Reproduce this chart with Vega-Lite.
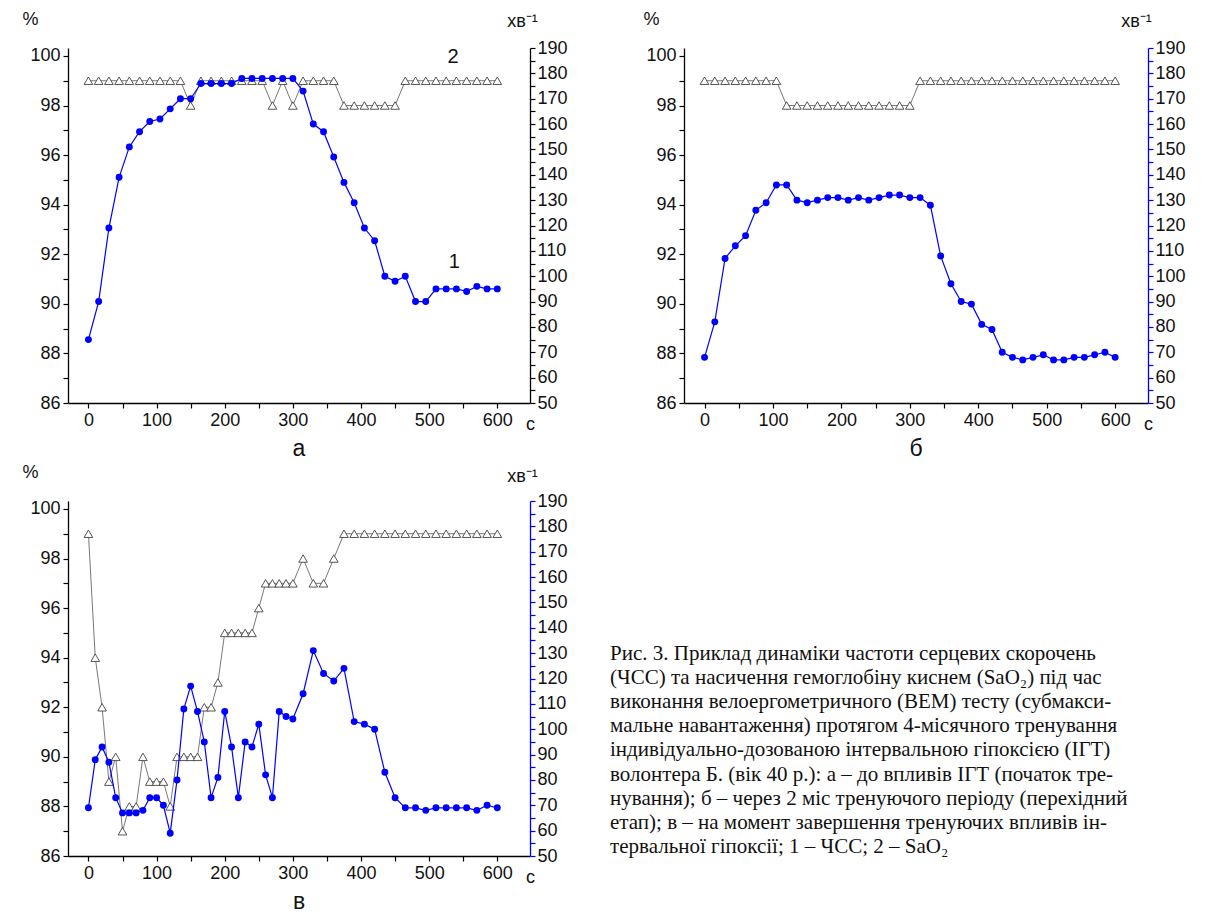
{
  "$schema": "https://vega.github.io/schema/vega-lite/v6.json",
  "autosize": {"type": "pad"},
  "padding": {"left": 21, "top": 10, "right": 0, "bottom": 0},
  "background": "white",
  "config": {
    "font": "Liberation Sans",
    "view": {"stroke": null},
    "axis": {
      "labelFont": "Liberation Sans", "labelFontSize": 18, "labelColor": "#111",
      "domainColor": "#000", "tickColor": "#000", "domainWidth": 1.3, "tickWidth": 1.2,
      "tickSize": 5, "grid": false, "labelFlush": false, "labelOverlap": false, "labelBound": false,
      "titleFont": "Liberation Sans", "titleFontWeight": "normal", "titleFontSize": 18, "titleColor": "#111"
    },
    "title": {"font": "Liberation Sans", "fontWeight": "normal", "fontSize": 23, "color": "#111"}
  },
  "datasets": {
    "a": [
      {"t": 0, "spo2": 99, "hr": 75}, {"t": 15, "spo2": 99, "hr": 90}, {"t": 30, "spo2": 99, "hr": 119},
      {"t": 45, "spo2": 99, "hr": 139}, {"t": 60, "spo2": 99, "hr": 151}, {"t": 75, "spo2": 99, "hr": 157},
      {"t": 90, "spo2": 99, "hr": 161}, {"t": 105, "spo2": 99, "hr": 162}, {"t": 120, "spo2": 99, "hr": 166},
      {"t": 135, "spo2": 99, "hr": 170}, {"t": 150, "spo2": 98, "hr": 170}, {"t": 165, "spo2": 99, "hr": 176},
      {"t": 180, "spo2": 99, "hr": 176}, {"t": 195, "spo2": 99, "hr": 176}, {"t": 210, "spo2": 99, "hr": 176},
      {"t": 225, "spo2": 99, "hr": 178}, {"t": 240, "spo2": 99, "hr": 178}, {"t": 255, "spo2": 99, "hr": 178},
      {"t": 270, "spo2": 98, "hr": 178}, {"t": 285, "spo2": 99, "hr": 178}, {"t": 300, "spo2": 98, "hr": 178},
      {"t": 315, "spo2": 99, "hr": 173}, {"t": 330, "spo2": 99, "hr": 160}, {"t": 345, "spo2": 99, "hr": 157},
      {"t": 360, "spo2": 99, "hr": 147}, {"t": 375, "spo2": 98, "hr": 137}, {"t": 390, "spo2": 98, "hr": 129},
      {"t": 405, "spo2": 98, "hr": 119}, {"t": 420, "spo2": 98, "hr": 114}, {"t": 435, "spo2": 98, "hr": 100},
      {"t": 450, "spo2": 98, "hr": 98}, {"t": 465, "spo2": 99, "hr": 100}, {"t": 480, "spo2": 99, "hr": 90},
      {"t": 495, "spo2": 99, "hr": 90}, {"t": 510, "spo2": 99, "hr": 95}, {"t": 525, "spo2": 99, "hr": 95},
      {"t": 540, "spo2": 99, "hr": 95}, {"t": 555, "spo2": 99, "hr": 94}, {"t": 570, "spo2": 99, "hr": 96},
      {"t": 585, "spo2": 99, "hr": 95}, {"t": 600, "spo2": 99, "hr": 95}
    ],
    "a_lbl": [
      {"t": 535, "spo2": 99.95, "lbl": "2"},
      {"t": 537, "spo2": 91.7, "lbl": "1"}
    ],
    "b": [
      {"t": 0, "spo2": 99, "hr": 68}, {"t": 15, "spo2": 99, "hr": 82}, {"t": 30, "spo2": 99, "hr": 107},
      {"t": 45, "spo2": 99, "hr": 112}, {"t": 60, "spo2": 99, "hr": 116}, {"t": 75, "spo2": 99, "hr": 126},
      {"t": 90, "spo2": 99, "hr": 129}, {"t": 105, "spo2": 99, "hr": 136}, {"t": 120, "spo2": 98, "hr": 136},
      {"t": 135, "spo2": 98, "hr": 130}, {"t": 150, "spo2": 98, "hr": 129}, {"t": 165, "spo2": 98, "hr": 130},
      {"t": 180, "spo2": 98, "hr": 131}, {"t": 195, "spo2": 98, "hr": 131}, {"t": 210, "spo2": 98, "hr": 130},
      {"t": 225, "spo2": 98, "hr": 131}, {"t": 240, "spo2": 98, "hr": 130}, {"t": 255, "spo2": 98, "hr": 131},
      {"t": 270, "spo2": 98, "hr": 132}, {"t": 285, "spo2": 98, "hr": 132}, {"t": 300, "spo2": 98, "hr": 131},
      {"t": 315, "spo2": 99, "hr": 131}, {"t": 330, "spo2": 99, "hr": 128}, {"t": 345, "spo2": 99, "hr": 108},
      {"t": 360, "spo2": 99, "hr": 97}, {"t": 375, "spo2": 99, "hr": 90}, {"t": 390, "spo2": 99, "hr": 89},
      {"t": 405, "spo2": 99, "hr": 81}, {"t": 420, "spo2": 99, "hr": 79}, {"t": 435, "spo2": 99, "hr": 70},
      {"t": 450, "spo2": 99, "hr": 68}, {"t": 465, "spo2": 99, "hr": 67}, {"t": 480, "spo2": 99, "hr": 68},
      {"t": 495, "spo2": 99, "hr": 69}, {"t": 510, "spo2": 99, "hr": 67}, {"t": 525, "spo2": 99, "hr": 67},
      {"t": 540, "spo2": 99, "hr": 68}, {"t": 555, "spo2": 99, "hr": 68}, {"t": 570, "spo2": 99, "hr": 69},
      {"t": 585, "spo2": 99, "hr": 70}, {"t": 600, "spo2": 99, "hr": 68}
    ],
    "c": [
      {"t": 0, "spo2": 99, "hr": 69}, {"t": 10, "spo2": 94, "hr": 88}, {"t": 20, "spo2": 92, "hr": 93},
      {"t": 30, "spo2": 89, "hr": 87}, {"t": 40, "spo2": 90, "hr": 73}, {"t": 50, "spo2": 87, "hr": 67},
      {"t": 60, "spo2": 88, "hr": 67}, {"t": 70, "spo2": 88, "hr": 67}, {"t": 80, "spo2": 90, "hr": 68},
      {"t": 90, "spo2": 89, "hr": 73}, {"t": 100, "spo2": 89, "hr": 73}, {"t": 110, "spo2": 89, "hr": 70},
      {"t": 120, "spo2": 88, "hr": 59}, {"t": 130, "spo2": 90, "hr": 80}, {"t": 140, "spo2": 90, "hr": 108},
      {"t": 150, "spo2": 90, "hr": 117}, {"t": 160, "spo2": 90, "hr": 107}, {"t": 170, "spo2": 92, "hr": 95},
      {"t": 180, "spo2": 92, "hr": 73}, {"t": 190, "spo2": 93, "hr": 81}, {"t": 200, "spo2": 95, "hr": 107},
      {"t": 210, "spo2": 95, "hr": 93}, {"t": 220, "spo2": 95, "hr": 73}, {"t": 230, "spo2": 95, "hr": 95},
      {"t": 240, "spo2": 95, "hr": 93}, {"t": 250, "spo2": 96, "hr": 102}, {"t": 260, "spo2": 97, "hr": 82},
      {"t": 270, "spo2": 97, "hr": 73}, {"t": 280, "spo2": 97, "hr": 107}, {"t": 290, "spo2": 97, "hr": 105},
      {"t": 300, "spo2": 97, "hr": 104}, {"t": 315, "spo2": 98, "hr": 114}, {"t": 330, "spo2": 97, "hr": 131},
      {"t": 345, "spo2": 97, "hr": 122}, {"t": 360, "spo2": 98, "hr": 119}, {"t": 375, "spo2": 99, "hr": 124},
      {"t": 390, "spo2": 99, "hr": 103}, {"t": 405, "spo2": 99, "hr": 102}, {"t": 420, "spo2": 99, "hr": 100},
      {"t": 435, "spo2": 99, "hr": 83}, {"t": 450, "spo2": 99, "hr": 73}, {"t": 465, "spo2": 99, "hr": 69},
      {"t": 480, "spo2": 99, "hr": 69}, {"t": 495, "spo2": 99, "hr": 68}, {"t": 510, "spo2": 99, "hr": 69},
      {"t": 525, "spo2": 99, "hr": 69}, {"t": 540, "spo2": 99, "hr": 69}, {"t": 555, "spo2": 99, "hr": 69},
      {"t": 570, "spo2": 99, "hr": 68}, {"t": 585, "spo2": 99, "hr": 70}, {"t": 600, "spo2": 99, "hr": 69}
    ],
    "caption": [
      {"line": 0, "text": "Рис. 3. Приклад динаміки частоти серцевих скорочень"},
      {"line": 1, "text": "(ЧСС) та насичення гемоглобіну киснем (SaO₂) під час"},
      {"line": 2, "text": "виконання велоергометричного (ВЕМ) тесту (субмакси-"},
      {"line": 3, "text": "мальне навантаження) протягом 4-місячного тренування"},
      {"line": 4, "text": "індивідуально-дозованою інтервальною гіпоксією (ІГТ)"},
      {"line": 5, "text": "волонтера Б. (вік 40 р.): а – до впливів ІГТ (початок тре-"},
      {"line": 6, "text": "нування); б – через 2 міс тренуючого періоду (перехідний"},
      {"line": 7, "text": "етап); в – на момент завершення тренуючих впливів ін-"},
      {"line": 8, "text": "тервальної гіпоксії; 1 – ЧСС; 2 – SaO₂"}
    ]
  },
  "columns": 2,
  "spacing": {"row": 98, "column": 154},
  "bounds": "flush",
  "concat": [
    {
      "width": 462, "height": 355,
      "title": {"text": "а", "orient": "bottom", "offset": 5},
      "layer": [
        {
          "encoding": {
            "x": {"field": "t", "type": "quantitative", "scale": {"domain": [-30, 648], "nice": false, "zero": false},
              "axis": {"values": [0, 50, 100, 150, 200, 250, 300, 350, 400, 450, 500, 550, 600], "labelExpr": "datum.value % 100 === 0 ? datum.label : ''", "labelPadding": 3, "title": "с", "titleX": 462, "titleY": 21, "titleAlign": "center", "titleBaseline": "middle"}},
            "y": {"field": "spo2", "type": "quantitative", "scale": {"domain": [86, 100.32], "nice": false, "zero": false},
              "axis": {"orient": "left", "values": [86, 87, 88, 89, 90, 91, 92, 93, 94, 95, 96, 97, 98, 99, 100], "labelExpr": "datum.value % 2 === 0 ? datum.label : ''", "labelPadding": 3, "title": "%", "titleAngle": 0, "titleX": -38, "titleY": -29, "titleAlign": "center", "titleBaseline": "middle"}}
          },
          "layer": [
            {"data": {"name": "a"}, "mark": {"type": "line", "color": "#555", "strokeWidth": 0.8}},
            {"data": {"name": "a"}, "mark": {"type": "point", "shape": "triangle-up", "size": 75, "filled": true, "fill": "#ffffff", "stroke": "#444", "strokeWidth": 0.9, "opacity": 1}},
            {"data": {"name": "a_lbl"}, "mark": {"type": "text", "fontSize": 20, "color": "#111"}, "encoding": {"text": {"field": "lbl"}}}
          ]
        },
        {
          "encoding": {
            "x": {"field": "t", "type": "quantitative", "scale": {"domain": [-30, 648], "nice": false, "zero": false},
              "axis": {"values": [0, 50, 100, 150, 200, 250, 300, 350, 400, 450, 500, 550, 600], "labelExpr": "datum.value % 100 === 0 ? datum.label : ''", "labelPadding": 3, "title": "с", "titleX": 462, "titleY": 21, "titleAlign": "center", "titleBaseline": "middle"}},
            "y": {"field": "hr", "type": "quantitative", "scale": {"domain": [50, 190], "nice": false, "zero": false},
              "axis": {"orient": "right", "values": [50, 55, 60, 65, 70, 75, 80, 85, 90, 95, 100, 105, 110, 115, 120, 125, 130, 135, 140, 145, 150, 155, 160, 165, 170, 175, 180, 185, 190], "labelExpr": "datum.value % 10 === 0 ? datum.label : ''", "labelPadding": 2, "title": "хв⁻¹", "titleAngle": 0, "titleX": -8, "titleY": -27, "titleAlign": "center", "titleBaseline": "middle"}}
          },
          "layer": [
            {"data": {"name": "a"}, "mark": {"type": "line", "color": "#0000ff", "strokeWidth": 1.2}},
            {"data": {"name": "a"}, "mark": {"type": "circle", "size": 48, "color": "#0000ff", "opacity": 1}}
          ]
        }
      ],
      "resolve": {"scale": {"y": "independent"}}
    },
    {
      "width": 464, "height": 355,
      "title": {"text": "б", "orient": "bottom", "offset": 5},
      "layer": [
        {
          "encoding": {
            "x": {"field": "t", "type": "quantitative", "scale": {"domain": [-30, 648], "nice": false, "zero": false},
              "axis": {"values": [0, 50, 100, 150, 200, 250, 300, 350, 400, 450, 500, 550, 600], "labelExpr": "datum.value % 100 === 0 ? datum.label : ''", "labelPadding": 3, "title": "с", "titleX": 464, "titleY": 21, "titleAlign": "center", "titleBaseline": "middle"}},
            "y": {"field": "spo2", "type": "quantitative", "scale": {"domain": [86, 100.32], "nice": false, "zero": false},
              "axis": {"orient": "left", "values": [86, 87, 88, 89, 90, 91, 92, 93, 94, 95, 96, 97, 98, 99, 100], "labelExpr": "datum.value % 2 === 0 ? datum.label : ''", "labelPadding": 3, "title": "%", "titleAngle": 0, "titleX": -33, "titleY": -29, "titleAlign": "center", "titleBaseline": "middle"}}
          },
          "layer": [
            {"data": {"name": "b"}, "mark": {"type": "line", "color": "#555", "strokeWidth": 0.8}},
            {"data": {"name": "b"}, "mark": {"type": "point", "shape": "triangle-up", "size": 75, "filled": true, "fill": "#ffffff", "stroke": "#444", "strokeWidth": 0.9, "opacity": 1}}
          ]
        },
        {
          "encoding": {
            "x": {"field": "t", "type": "quantitative", "scale": {"domain": [-30, 648], "nice": false, "zero": false},
              "axis": {"values": [0, 50, 100, 150, 200, 250, 300, 350, 400, 450, 500, 550, 600], "labelExpr": "datum.value % 100 === 0 ? datum.label : ''", "labelPadding": 3, "title": "с", "titleX": 464, "titleY": 21, "titleAlign": "center", "titleBaseline": "middle"}},
            "y": {"field": "hr", "type": "quantitative", "scale": {"domain": [50, 190], "nice": false, "zero": false},
              "axis": {"orient": "right", "domainColor": "#0000ff", "tickColor": "#0000ff", "values": [50, 55, 60, 65, 70, 75, 80, 85, 90, 95, 100, 105, 110, 115, 120, 125, 130, 135, 140, 145, 150, 155, 160, 165, 170, 175, 180, 185, 190], "labelExpr": "datum.value % 10 === 0 ? datum.label : ''", "labelPadding": 2, "title": "хв⁻¹", "titleAngle": 0, "titleX": -12, "titleY": -27, "titleAlign": "center", "titleBaseline": "middle"}}
          },
          "layer": [
            {"data": {"name": "b"}, "mark": {"type": "line", "color": "#0000ff", "strokeWidth": 1.2}},
            {"data": {"name": "b"}, "mark": {"type": "circle", "size": 48, "color": "#0000ff", "opacity": 1}}
          ]
        }
      ],
      "resolve": {"scale": {"y": "independent"}}
    },
    {
      "width": 462, "height": 355,
      "title": {"text": "в", "orient": "bottom", "offset": 5},
      "layer": [
        {
          "encoding": {
            "x": {"field": "t", "type": "quantitative", "scale": {"domain": [-30, 648], "nice": false, "zero": false},
              "axis": {"values": [0, 50, 100, 150, 200, 250, 300, 350, 400, 450, 500, 550, 600], "labelExpr": "datum.value % 100 === 0 ? datum.label : ''", "labelPadding": 3, "title": "с", "titleX": 462, "titleY": 21, "titleAlign": "center", "titleBaseline": "middle"}},
            "y": {"field": "spo2", "type": "quantitative", "scale": {"domain": [86, 100.32], "nice": false, "zero": false},
              "axis": {"orient": "left", "values": [86, 87, 88, 89, 90, 91, 92, 93, 94, 95, 96, 97, 98, 99, 100], "labelExpr": "datum.value % 2 === 0 ? datum.label : ''", "labelPadding": 3, "title": "%", "titleAngle": 0, "titleX": -38, "titleY": -29, "titleAlign": "center", "titleBaseline": "middle"}}
          },
          "layer": [
            {"data": {"name": "c"}, "mark": {"type": "line", "color": "#555", "strokeWidth": 0.8}},
            {"data": {"name": "c"}, "mark": {"type": "point", "shape": "triangle-up", "size": 75, "filled": true, "fill": "#ffffff", "stroke": "#444", "strokeWidth": 0.9, "opacity": 1}}
          ]
        },
        {
          "encoding": {
            "x": {"field": "t", "type": "quantitative", "scale": {"domain": [-30, 648], "nice": false, "zero": false},
              "axis": {"values": [0, 50, 100, 150, 200, 250, 300, 350, 400, 450, 500, 550, 600], "labelExpr": "datum.value % 100 === 0 ? datum.label : ''", "labelPadding": 3, "title": "с", "titleX": 462, "titleY": 21, "titleAlign": "center", "titleBaseline": "middle"}},
            "y": {"field": "hr", "type": "quantitative", "scale": {"domain": [50, 190], "nice": false, "zero": false},
              "axis": {"orient": "right", "domainColor": "#0000ff", "tickColor": "#0000ff", "values": [50, 55, 60, 65, 70, 75, 80, 85, 90, 95, 100, 105, 110, 115, 120, 125, 130, 135, 140, 145, 150, 155, 160, 165, 170, 175, 180, 185, 190], "labelExpr": "datum.value % 10 === 0 ? datum.label : ''", "labelPadding": 2, "title": "хв⁻¹", "titleAngle": 0, "titleX": -8, "titleY": -25, "titleAlign": "center", "titleBaseline": "middle"}}
          },
          "layer": [
            {"data": {"name": "c"}, "mark": {"type": "line", "color": "#0000ff", "strokeWidth": 1.2}},
            {"data": {"name": "c"}, "mark": {"type": "circle", "size": 48, "color": "#0000ff", "opacity": 1}}
          ]
        }
      ],
      "resolve": {"scale": {"y": "independent"}}
    },
    {
      "width": 464, "height": 355,
      "data": {"name": "caption"},
      "mark": {"type": "text", "font": "Liberation Serif", "fontSize": 21, "align": "left", "baseline": "middle", "color": "#111"},
      "encoding": {
        "x": {"datum": 0, "type": "quantitative", "scale": {"domain": [0.1375, 1], "nice": false, "zero": false}, "axis": null},
        "y": {"field": "line", "type": "quantitative", "scale": {"domain": [-6.35, 8.38], "nice": false, "zero": false, "reverse": true}, "axis": null},
        "text": {"field": "text"}
      }
    }
  ]
}
